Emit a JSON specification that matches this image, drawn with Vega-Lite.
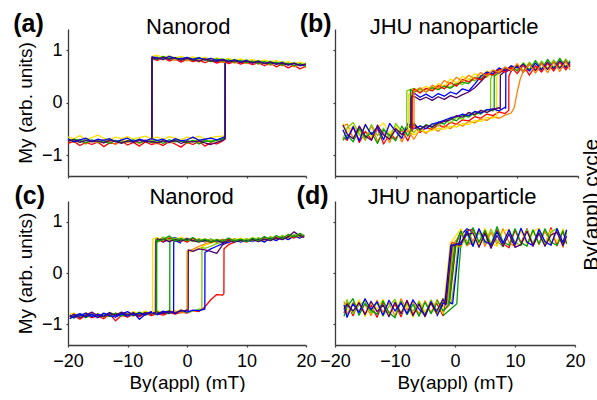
{
"$schema":"https://vega.github.io/schema/vega-lite/v6.json",
"padding":{"left":13,"top":11,"right":0,"bottom":0},
"background":"white",
"config":{"view":{"stroke":null},
"axis":{"grid":false,"domainColor":"#3a3a3a","domainWidth":1.3,"tickColor":"#3a3a3a","tickSize":2,"tickWidth":1.2,"labelFont":"Liberation Sans","labelFontSize":18,"labelColor":"black","titleFont":"Liberation Sans","titleFontSize":19,"titleFontWeight":"normal","titleColor":"black","labelFlush":false,"labelOverlap":false,"format":".0f"},
"axisX":{"labelPadding":5,"titlePadding":3},
"axisY":{"labelPadding":4,"titlePadding":6},
"text":{"font":"Liberation Sans","color":"black"}},
"datasets":{"pts":[
{"p":"a","s":0,"x":-20,"r":-0.78,"o":-0.72,"y":-0.66,"l":-0.70,"g":-0.74,"b":-0.69,"v":-0.73},
{"p":"a","s":0,"x":-19,"r":-0.74,"o":-0.76,"y":-0.69,"l":-0.73,"g":-0.70,"b":-0.75,"v":-0.71},
{"p":"a","s":0,"x":-18,"r":-0.82,"o":-0.70,"y":-0.63,"l":-0.76,"g":-0.72,"b":-0.71,"v":-0.76},
{"p":"a","s":0,"x":-17,"r":-0.76,"o":-0.79,"y":-0.70,"l":-0.69,"g":-0.77,"b":-0.68,"v":-0.72},
{"p":"a","s":0,"x":-16,"r":-0.80,"o":-0.73,"y":-0.67,"l":-0.74,"g":-0.71,"b":-0.74,"v":-0.75},
{"p":"a","s":0,"x":-15,"r":-0.75,"o":-0.77,"y":-0.62,"l":-0.71,"g":-0.75,"b":-0.70,"v":-0.73},
{"p":"a","s":0,"x":-14,"r":-0.84,"o":-0.71,"y":-0.68,"l":-0.77,"g":-0.73,"b":-0.72,"v":-0.77},
{"p":"a","s":0,"x":-13,"r":-0.77,"o":-0.74,"y":-0.71,"l":-0.70,"g":-0.78,"b":-0.69,"v":-0.72},
{"p":"a","s":0,"x":-12,"r":-0.79,"o":-0.80,"y":-0.66,"l":-0.73,"g":-0.72,"b":-0.75,"v":-0.74},
{"p":"a","s":0,"x":-11,"r":-0.73,"o":-0.72,"y":-0.69,"l":-0.76,"g":-0.76,"b":-0.71,"v":-0.78},
{"p":"a","s":0,"x":-10,"r":-0.81,"o":-0.76,"y":-0.65,"l":-0.72,"g":-0.74,"b":-0.68,"v":-0.73},
{"p":"a","s":0,"x":-9,"r":-0.76,"o":-0.73,"y":-0.70,"l":-0.75,"g":-0.71,"b":-0.74,"v":-0.76},
{"p":"a","s":0,"x":-8,"r":-0.83,"o":-0.78,"y":-0.67,"l":-0.70,"g":-0.77,"b":-0.70,"v":-0.72},
{"p":"a","s":0,"x":-7,"r":-0.75,"o":-0.71,"y":-0.64,"l":-0.74,"g":-0.73,"b":-0.73,"v":-0.75},
{"p":"a","s":0,"x":-6,"r":-0.80,"o":-0.75,"y":-0.69,"l":-0.71,"g":-0.76,"b":-0.69,"v":-0.74},
{"p":"a","s":0,"x":-5,"r":-0.77,"o":-0.79,"y":-0.66,"l":-0.75,"g":-0.72,"b":-0.72,"v":-0.77},
{"p":"a","s":0,"x":-4,"r":-0.82,"o":-0.72,"y":-0.70,"l":-0.73,"g":-0.78,"b":-0.70,"v":-0.73},
{"p":"a","s":0,"x":-3,"r":-0.74,"o":-0.77,"y":-0.65,"l":-0.76,"g":-0.71,"b":-0.75,"v":-0.76},
{"p":"a","s":0,"x":-2,"r":-0.79,"o":-0.74,"y":-0.68,"l":-0.71,"g":-0.75,"b":-0.69,"v":-0.72},
{"p":"a","s":0,"x":-1,"r":-0.85,"o":-0.70,"y":-0.71,"l":-0.74,"g":-0.73,"b":-0.73,"v":-0.78},
{"p":"a","s":0,"x":0,"r":-0.76,"o":-0.78,"y":-0.66,"l":-0.72,"g":-0.77,"b":-0.71,"v":-0.74},
{"p":"a","s":0,"x":1,"r":-0.80,"o":-0.73,"y":-0.69,"l":-0.75,"g":-0.72,"b":-0.66,"v":-0.75},
{"p":"a","s":0,"x":2,"r":-0.74,"o":-0.76,"y":-0.64,"l":-0.70,"g":-0.79,"b":-0.72,"v":-0.73},
{"p":"a","s":0,"x":3,"r":-0.83,"o":-0.71,"y":-0.70,"l":-0.74,"g":-0.73,"b":-0.70,"v":-0.77},
{"p":"a","s":0,"x":4,"r":-0.77,"o":-0.75,"y":-0.67,"l":-0.72,"g":-0.75,"b":-0.68,"v":-0.80},
{"p":"a","s":0,"x":5,"r":-0.79,"o":-0.72,"y":-0.65,"l":-0.73,"g":-0.71,"b":-0.71,"v":-0.76},
{"p":"a","s":0,"x":6,"r":-0.73,"o":-0.70,"y":-0.64,"l":-0.69,"g":-0.70,"b":-0.67,"v":-0.72},
{"p":"a","s":0,"x":6.4,"r":-0.70,"o":-0.68,"y":-0.62,"l":-0.66,"g":-0.68,"b":-0.65,"v":-0.69},
{"p":"a","s":0,"x":6.42,"r":0.74,"o":0.76,"y":0.78,"l":0.75,"g":0.77,"b":0.76,"v":0.74},
{"p":"a","s":1,"x":-5.9,"r":-0.70,"o":-0.68,"y":-0.63,"l":-0.67,"g":-0.69,"b":-0.66,"v":-0.70},
{"p":"a","s":1,"x":-5.88,"r":0.83,"o":0.86,"y":0.88,"l":0.85,"g":0.84,"b":0.87,"v":0.85},
{"p":"a","s":1,"x":-5,"r":0.80,"o":0.84,"y":0.90,"l":0.87,"g":0.82,"b":0.85,"v":0.83},
{"p":"a","s":1,"x":-4,"r":0.85,"o":0.81,"y":0.86,"l":0.83,"g":0.88,"b":0.82,"v":0.86},
{"p":"a","s":1,"x":-3,"r":0.79,"o":0.86,"y":0.89,"l":0.86,"g":0.83,"b":0.88,"v":0.82},
{"p":"a","s":1,"x":-2,"r":0.83,"o":0.80,"y":0.85,"l":0.82,"g":0.86,"b":0.84,"v":0.85},
{"p":"a","s":1,"x":-1,"r":0.77,"o":0.85,"y":0.88,"l":0.85,"g":0.81,"b":0.83,"v":0.80},
{"p":"a","s":1,"x":0,"r":0.82,"o":0.79,"y":0.84,"l":0.81,"g":0.85,"b":0.86,"v":0.84},
{"p":"a","s":1,"x":1,"r":0.78,"o":0.84,"y":0.87,"l":0.83,"g":0.80,"b":0.82,"v":0.81},
{"p":"a","s":1,"x":2,"r":0.81,"o":0.77,"y":0.83,"l":0.86,"g":0.84,"b":0.85,"v":0.79},
{"p":"a","s":1,"x":3,"r":0.76,"o":0.83,"y":0.86,"l":0.80,"g":0.82,"b":0.81,"v":0.83},
{"p":"a","s":1,"x":4,"r":0.80,"o":0.78,"y":0.82,"l":0.84,"g":0.78,"b":0.84,"v":0.80},
{"p":"a","s":1,"x":5,"r":0.75,"o":0.82,"y":0.85,"l":0.81,"g":0.83,"b":0.80,"v":0.78},
{"p":"a","s":1,"x":6,"r":0.79,"o":0.76,"y":0.81,"l":0.83,"g":0.79,"b":0.82,"v":0.81},
{"p":"a","s":1,"x":7,"r":0.74,"o":0.81,"y":0.84,"l":0.79,"g":0.81,"b":0.78,"v":0.77},
{"p":"a","s":1,"x":8,"r":0.78,"o":0.75,"y":0.80,"l":0.82,"g":0.77,"b":0.81,"v":0.80},
{"p":"a","s":1,"x":9,"r":0.73,"o":0.80,"y":0.83,"l":0.78,"g":0.80,"b":0.77,"v":0.76},
{"p":"a","s":1,"x":10,"r":0.77,"o":0.74,"y":0.79,"l":0.81,"g":0.76,"b":0.80,"v":0.79},
{"p":"a","s":1,"x":11,"r":0.72,"o":0.79,"y":0.82,"l":0.77,"g":0.79,"b":0.75,"v":0.76},
{"p":"a","s":1,"x":12,"r":0.76,"o":0.73,"y":0.78,"l":0.80,"g":0.74,"b":0.79,"v":0.78},
{"p":"a","s":1,"x":13,"r":0.70,"o":0.78,"y":0.81,"l":0.76,"g":0.78,"b":0.74,"v":0.74},
{"p":"a","s":1,"x":14,"r":0.75,"o":0.71,"y":0.77,"l":0.79,"g":0.73,"b":0.77,"v":0.77},
{"p":"a","s":1,"x":15,"r":0.68,"o":0.76,"y":0.80,"l":0.74,"g":0.77,"b":0.73,"v":0.73},
{"p":"a","s":1,"x":16,"r":0.73,"o":0.70,"y":0.75,"l":0.78,"g":0.71,"b":0.76,"v":0.75},
{"p":"a","s":1,"x":17,"r":0.66,"o":0.74,"y":0.78,"l":0.73,"g":0.75,"b":0.71,"v":0.72},
{"p":"a","s":1,"x":18,"r":0.71,"o":0.68,"y":0.74,"l":0.76,"g":0.70,"b":0.75,"v":0.74},
{"p":"a","s":1,"x":19,"r":0.64,"o":0.73,"y":0.77,"l":0.71,"g":0.74,"b":0.70,"v":0.71},
{"p":"a","s":1,"x":20,"r":0.69,"o":0.67,"y":0.73,"l":0.75,"g":0.69,"b":0.73,"v":0.72},
{"p":"b","s":0,"x":-18.7,"r":-0.66,"o":-0.45,"y":-0.40,"l":-0.70,"g":-0.72,"b":-0.52,"v":-0.43},
{"p":"b","s":0,"x":-18,"r":-0.72,"o":-0.41,"y":-0.58,"l":-0.48,"g":-0.62,"b":-0.70,"v":-0.60},
{"p":"b","s":0,"x":-17,"r":-0.47,"o":-0.68,"y":-0.44,"l":-0.38,"g":-0.75,"b":-0.46,"v":-0.69},
{"p":"b","s":0,"x":-16,"r":-0.76,"o":-0.52,"y":-0.63,"l":-0.60,"g":-0.49,"b":-0.73,"v":-0.45},
{"p":"b","s":0,"x":-15,"r":-0.55,"o":-0.72,"y":-0.41,"l":-0.70,"g":-0.67,"b":-0.42,"v":-0.64},
{"p":"b","s":0,"x":-14,"r":-0.71,"o":-0.44,"y":-0.66,"l":-0.42,"g":-0.57,"b":-0.61,"v":-0.72},
{"p":"b","s":0,"x":-13,"r":-0.50,"o":-0.74,"y":-0.48,"l":-0.63,"g":-0.78,"b":-0.47,"v":-0.43},
{"p":"b","s":0,"x":-12,"r":-0.79,"o":-0.57,"y":-0.39,"l":-0.49,"g":-0.52,"b":-0.71,"v":-0.62},
{"p":"b","s":0,"x":-11,"r":-0.60,"o":-0.76,"y":-0.60,"l":-0.68,"g":-0.63,"b":-0.40,"v":-0.70},
{"p":"b","s":0,"x":-10,"r":-0.69,"o":-0.48,"y":-0.45,"l":-0.40,"g":-0.73,"b":-0.55,"v":-0.50},
{"p":"b","s":0,"x":-9,"r":-0.52,"o":-0.75,"y":-0.64,"l":-0.55,"g":-0.45,"b":-0.68,"v":-0.61},
{"p":"b","s":0,"x":-8,"r":-0.73,"o":-0.53,"y":-0.49,"l":-0.43,"g":-0.64,"b":-0.40,"v":-0.48},
{"p":"b","s":0,"x":-7,"r":-0.45,"o":-0.70,"y":-0.62,"l":-0.57,"g":-0.39,"b":-0.50,"v":-0.42},
{"p":"b","s":0,"x":-6,"r":-0.57,"o":-0.51,"y":-0.52,"l":-0.44,"g":-0.53,"b":-0.45,"v":-0.51},
{"p":"b","s":0,"x":-5,"r":-0.48,"o":-0.59,"y":-0.56,"l":-0.49,"g":-0.42,"b":-0.50,"v":-0.44},
{"p":"b","s":0,"x":-4,"r":-0.51,"o":-0.47,"y":-0.53,"l":-0.40,"g":-0.48,"b":-0.41,"v":-0.46},
{"p":"b","s":0,"x":-3,"r":-0.43,"o":-0.55,"y":-0.49,"l":-0.45,"g":-0.37,"b":-0.38,"v":-0.40},
{"p":"b","s":0,"x":-2,"r":-0.47,"o":-0.44,"y":-0.51,"l":-0.33,"g":-0.41,"b":-0.34,"v":-0.36},
{"p":"b","s":0,"x":-1,"r":-0.38,"o":-0.50,"y":-0.45,"l":-0.39,"g":-0.30,"b":-0.29,"v":-0.33},
{"p":"b","s":0,"x":0,"r":-0.41,"o":-0.40,"y":-0.47,"l":-0.28,"g":-0.35,"b":-0.27,"v":-0.25},
{"p":"b","s":0,"x":1,"r":-0.33,"o":-0.45,"y":-0.40,"l":-0.32,"g":-0.24,"b":-0.22,"v":-0.28},
{"p":"b","s":0,"x":2,"r":-0.35,"o":-0.36,"y":-0.42,"l":-0.20,"g":-0.28,"b":-0.25,"v":-0.19},
{"p":"b","s":0,"x":3,"r":-0.27,"o":-0.39,"y":-0.34,"l":-0.25,"g":-0.18,"b":-0.17,"v":-0.23},
{"p":"b","s":0,"x":4,"r":-0.30,"o":-0.31,"y":-0.36,"l":-0.16,"g":-0.22,"b":-0.20,"v":-0.15},
{"p":"b","s":0,"x":5,"r":-0.22,"o":-0.34,"y":-0.28,"l":-0.19,"g":-0.13,"b":-0.14,"v":-0.19},
{"p":"b","s":0,"x":5.6,"l":-0.15},
{"p":"b","s":0,"x":5.62,"l":0.45},
{"p":"b","s":0,"x":6,"r":-0.25,"o":-0.27,"y":-0.30,"l":0.55,"g":-0.16,"b":-0.12,"v":-0.13},
{"p":"b","s":0,"x":6.2,"g":-0.12},
{"p":"b","s":0,"x":6.22,"g":0.50},
{"p":"b","s":0,"x":6.6,"y":-0.26},
{"p":"b","s":0,"x":6.62,"y":0.48},
{"p":"b","s":0,"x":7,"r":-0.18,"o":-0.30,"y":0.56,"l":0.62,"g":0.58,"b":-0.16,"v":-0.10},
{"p":"b","s":0,"x":7.2,"v":-0.12},
{"p":"b","s":0,"x":7.22,"v":0.52},
{"p":"b","s":0,"x":8,"r":-0.21,"o":-0.24,"y":0.63,"g":0.64,"b":-0.09,"v":0.60},
{"p":"b","s":0,"x":8.1,"b":-0.11},
{"p":"b","s":0,"x":8.12,"b":0.58},
{"p":"b","s":0,"x":8.6,"r":-0.15},
{"p":"b","s":0,"x":8.62,"r":0.50},
{"p":"b","s":0,"x":9,"r":0.60,"o":-0.20,"b":0.64},
{"p":"b","s":0,"x":9.5,"o":-0.10},
{"p":"b","s":0,"x":10,"o":0.20},
{"p":"b","s":0,"x":10.5,"o":0.45},
{"p":"b","s":0,"x":11,"o":0.60},
{"p":"b","s":0,"x":12,"o":0.62},
{"p":"b","s":1,"x":-8.2,"l":-0.50},
{"p":"b","s":1,"x":-8.18,"l":0.22},
{"p":"b","s":1,"x":-7.9,"y":-0.52},
{"p":"b","s":1,"x":-7.88,"y":0.15},
{"p":"b","s":1,"x":-7.6,"g":-0.48},
{"p":"b","s":1,"x":-7.58,"g":0.25},
{"p":"b","s":1,"x":-7.5,"v":-0.50},
{"p":"b","s":1,"x":-7.48,"v":0.08},
{"p":"b","s":1,"x":-7.4,"b":-0.45},
{"p":"b","s":1,"x":-7.38,"b":0.12},
{"p":"b","s":1,"x":-7.3,"r":-0.55},
{"p":"b","s":1,"x":-7.28,"r":0.20},
{"p":"b","s":1,"x":-7,"r":0.26,"o":-0.50,"y":0.20,"l":0.27,"g":0.19,"b":0.18,"v":0.12},
{"p":"b","s":1,"x":-6.98,"o":0.22},
{"p":"b","s":1,"x":-6,"r":0.18,"o":0.28,"y":0.25,"l":0.21,"g":0.27,"b":0.10,"v":0.05},
{"p":"b","s":1,"x":-5,"r":0.27,"o":0.20,"y":0.31,"l":0.26,"g":0.20,"b":0.16,"v":0.10},
{"p":"b","s":1,"x":-4,"r":0.22,"o":0.33,"y":0.24,"l":0.30,"g":0.28,"b":0.09,"v":0.04},
{"p":"b","s":1,"x":-3,"r":0.32,"o":0.27,"y":0.36,"l":0.24,"g":0.25,"b":0.17,"v":0.11},
{"p":"b","s":1,"x":-2,"r":0.26,"o":0.42,"y":0.30,"l":0.33,"g":0.31,"b":0.12,"v":0.06},
{"p":"b","s":1,"x":-1,"r":0.38,"o":0.35,"y":0.45,"l":0.29,"g":0.27,"b":0.20,"v":0.13},
{"p":"b","s":1,"x":0,"r":0.31,"o":0.48,"y":0.37,"l":0.38,"g":0.35,"b":0.16,"v":0.09},
{"p":"b","s":1,"x":1,"r":0.44,"o":0.40,"y":0.50,"l":0.34,"g":0.39,"b":0.26,"v":0.15},
{"p":"b","s":1,"x":2,"r":0.39,"o":0.52,"y":0.43,"l":0.45,"g":0.36,"b":0.22,"v":0.20},
{"p":"b","s":1,"x":3,"r":0.47,"o":0.45,"y":0.55,"l":0.41,"g":0.48,"b":0.35,"v":0.28},
{"p":"b","s":1,"x":4,"r":0.43,"o":0.57,"y":0.49,"l":0.52,"g":0.45,"b":0.50,"v":0.40},
{"p":"b","s":1,"x":5,"r":0.55,"o":0.51,"y":0.60,"l":0.48,"g":0.56,"b":0.58,"v":0.52},
{"p":"b","s":1,"x":6,"r":0.52,"o":0.62,"y":0.54,"l":0.60,"g":0.53,"b":0.55,"v":0.60},
{"p":"b","s":1,"x":7,"r":0.63,"o":0.57,"y":0.65,"l":0.56,"g":0.64,"b":0.66,"v":0.56},
{"p":"b","s":1,"x":8,"r":0.58,"o":0.68,"y":0.60,"l":0.66,"g":0.59,"b":0.60,"v":0.64},
{"p":"b","s":1,"x":9,"r":0.67,"o":0.61,"y":0.70,"l":0.62,"g":0.69,"b":0.70,"v":0.60},
{"p":"b","s":1,"x":10,"r":0.55,"o":0.74,"y":0.62,"l":0.72,"g":0.60,"b":0.66,"v":0.70},
{"p":"b","s":1,"x":11,"r":0.71,"o":0.58,"y":0.76,"l":0.61,"g":0.75,"b":0.72,"v":0.58},
{"p":"b","s":1,"x":12,"r":0.52,"o":0.73,"y":0.63,"l":0.77,"g":0.62,"b":0.60,"v":0.73},
{"p":"b","s":1,"x":13,"r":0.70,"o":0.56,"y":0.78,"l":0.64,"g":0.80,"b":0.75,"v":0.61},
{"p":"b","s":1,"x":14,"r":0.58,"o":0.74,"y":0.61,"l":0.79,"g":0.63,"b":0.62,"v":0.75},
{"p":"b","s":1,"x":15,"r":0.75,"o":0.57,"y":0.80,"l":0.65,"g":0.82,"b":0.77,"v":0.63},
{"p":"b","s":1,"x":16,"r":0.60,"o":0.77,"y":0.63,"l":0.81,"g":0.66,"b":0.64,"v":0.77},
{"p":"b","s":1,"x":17,"r":0.77,"o":0.59,"y":0.82,"l":0.67,"g":0.84,"b":0.79,"v":0.65},
{"p":"b","s":1,"x":18,"r":0.62,"o":0.78,"y":0.66,"l":0.83,"g":0.68,"b":0.66,"v":0.79},
{"p":"b","s":1,"x":18.7,"r":0.74,"o":0.62,"y":0.78,"l":0.70,"g":0.80,"b":0.77,"v":0.68},
{"p":"c","s":0,"x":-19.7,"r":-0.88,"o":-0.84,"y":-0.80,"l":-0.86,"g":-0.83,"b":-0.89,"v":-0.85,"b2":-0.82},
{"p":"c","s":0,"x":-19,"r":-0.83,"o":-0.87,"y":-0.78,"l":-0.81,"g":-0.88,"b":-0.84,"v":-0.80,"b2":-0.86},
{"p":"c","s":0,"x":-18,"r":-0.90,"o":-0.81,"y":-0.84,"l":-0.85,"g":-0.80,"b":-0.79,"v":-0.87,"b2":-0.83},
{"p":"c","s":0,"x":-17,"r":-0.82,"o":-0.86,"y":-0.77,"l":-0.79,"g":-0.87,"b":-0.85,"v":-0.82,"b2":-0.78},
{"p":"c","s":0,"x":-16,"r":-0.87,"o":-0.79,"y":-0.83,"l":-0.84,"g":-0.81,"b":-0.80,"v":-0.76,"b2":-0.85},
{"p":"c","s":0,"x":-15,"r":-0.84,"o":-0.85,"y":-0.79,"l":-0.80,"g":-0.86,"b":-0.87,"v":-0.83,"b2":-0.80},
{"p":"c","s":0,"x":-14,"r":-0.89,"o":-0.80,"y":-0.82,"l":-0.86,"g":-0.79,"b":-0.78,"v":-0.85,"b2":-0.84},
{"p":"c","s":0,"x":-13,"r":-0.80,"o":-0.84,"y":-0.76,"l":-0.79,"g":-0.85,"b":-0.83,"v":-0.79,"b2":-0.77},
{"p":"c","s":0,"x":-12,"r":-0.93,"o":-0.78,"y":-0.81,"l":-0.83,"g":-0.78,"b":-0.86,"v":-0.82,"b2":-0.83},
{"p":"c","s":0,"x":-11,"r":-0.82,"o":-0.83,"y":-0.77,"l":-0.78,"g":-0.84,"b":-0.79,"v":-0.76,"b2":-0.80},
{"p":"c","s":0,"x":-10,"r":-0.86,"o":-0.79,"y":-0.80,"l":-0.82,"g":-0.80,"b":-0.84,"v":-0.81,"b2":-0.75},
{"p":"c","s":0,"x":-9,"r":-0.80,"o":-0.84,"y":-0.75,"l":-0.77,"g":-0.83,"b":-0.77,"v":-0.78,"b2":-0.82},
{"p":"c","s":0,"x":-8,"r":-0.85,"o":-0.77,"y":-0.79,"l":-0.81,"g":-0.76,"b":-0.90,"v":-0.83,"b2":-0.78},
{"p":"c","s":0,"x":-7,"r":-0.78,"o":-0.82,"y":-0.74,"l":-0.76,"g":-0.82,"b":-0.80,"v":-0.77,"b2":-0.81},
{"p":"c","s":0,"x":-6,"r":-0.83,"o":-0.76,"y":-0.78,"l":-0.80,"g":-0.77,"b":-0.75,"v":-0.80,"b2":-0.76},
{"p":"c","s":0,"x":-5,"r":-0.79,"o":-0.80,"y":-0.73,"l":-0.75,"g":-0.81,"b":-0.81,"v":-0.76,"b2":-0.80},
{"p":"c","s":0,"x":-4,"r":-0.82,"o":-0.75,"y":-0.77,"l":-0.79,"g":-0.76,"b":-0.77,"v":-0.79,"b2":-0.74},
{"p":"c","s":0,"x":-3,"r":-0.77,"o":-0.79,"y":-0.72,"l":-0.74,"g":-0.79,"b":-0.74,"v":-0.75,"b2":-0.78},
{"p":"c","s":0,"x":-2.9,"g":-0.76},
{"p":"c","s":0,"x":-2.88,"g":0.62},
{"p":"c","s":0,"x":-2.25,"b2":-0.75},
{"p":"c","s":0,"x":-2.23,"b2":0.60},
{"p":"c","s":0,"x":-2,"r":-0.80,"o":-0.74,"y":-0.76,"l":-0.78,"g":0.66,"b":-0.79,"v":-0.77,"b2":0.63},
{"p":"c","s":0,"x":-1,"r":-0.76,"o":-0.78,"y":-0.71,"l":-0.73,"g":0.60,"b":-0.72,"v":-0.74,"b2":0.58},
{"p":"c","s":0,"x":0,"r":-0.78,"o":-0.73,"y":-0.75,"l":-0.77,"b":-0.76,"v":-0.72},
{"p":"c","s":0,"x":0.02,"o":0.42},
{"p":"c","s":0,"x":0.1,"y":-0.74},
{"p":"c","s":0,"x":0.12,"y":0.40},
{"p":"c","s":0,"x":0.2,"v":-0.73},
{"p":"c","s":0,"x":0.22,"v":0.45},
{"p":"c","s":0,"x":1,"r":-0.73,"o":0.46,"y":0.43,"l":-0.74,"b":-0.72,"v":0.42},
{"p":"c","s":0,"x":2,"r":-0.75,"o":0.52,"y":0.48,"l":-0.70,"b":-0.73,"v":0.47},
{"p":"c","s":0,"x":2.5,"l":-0.71},
{"p":"c","s":0,"x":2.52,"l":0.50},
{"p":"c","s":0,"x":3,"r":-0.66,"o":0.56,"y":0.54,"l":0.48,"b":-0.70,"v":0.45},
{"p":"c","s":0,"x":3.02,"b":0.40},
{"p":"c","s":0,"x":4,"r":-0.52,"o":0.60,"y":0.58,"l":0.52,"b":0.47,"v":0.42},
{"p":"c","s":0,"x":5,"r":-0.42,"o":0.62,"y":0.61,"l":0.57,"b":0.52,"v":0.38},
{"p":"c","s":0,"x":6,"r":-0.43,"l":0.60,"b":0.57,"v":0.55},
{"p":"c","s":0,"x":6.2,"r":-0.40},
{"p":"c","s":0,"x":6.22,"r":0.47},
{"p":"c","s":0,"x":7,"r":0.55,"b":0.60,"v":0.60},
{"p":"c","s":0,"x":8,"r":0.60},
{"p":"c","s":1,"x":-5.8,"y":-0.77},
{"p":"c","s":1,"x":-5.78,"y":0.66},
{"p":"c","s":1,"x":-5.3,"o":-0.78,"b":-0.80},
{"p":"c","s":1,"x":-5.28,"o":0.62,"b":0.64},
{"p":"c","s":1,"x":-5.2,"r":-0.80,"l":-0.76,"v":-0.78},
{"p":"c","s":1,"x":-5.18,"r":0.63,"l":0.67,"v":0.60},
{"p":"c","s":1,"x":-5.1,"g":-0.79},
{"p":"c","s":1,"x":-5.08,"g":0.65},
{"p":"c","s":1,"x":-5,"r":0.66,"o":0.60,"y":0.69,"l":0.62,"g":0.61,"b":0.67,"v":0.64},
{"p":"c","s":1,"x":-4,"r":0.61,"o":0.67,"y":0.63,"l":0.70,"g":0.65,"b":0.60,"v":0.66},
{"p":"c","s":1,"x":-3,"r":0.68,"o":0.62,"y":0.71,"l":0.64,"g":0.72,"b":0.66,"v":0.61},
{"p":"c","s":1,"x":-2,"r":0.63,"o":0.66,"y":0.65,"l":0.68,"g":0.62,"b":0.69,"v":0.65},
{"p":"c","s":1,"x":-1,"r":0.66,"o":0.61,"y":0.70,"l":0.63,"g":0.67,"b":0.63,"v":0.62},
{"p":"c","s":1,"x":0,"r":0.60,"o":0.68,"y":0.64,"l":0.66,"g":0.63,"b":0.67,"v":0.66},
{"p":"c","s":1,"x":1,"r":0.67,"o":0.62,"y":0.68,"l":0.61,"g":0.69,"b":0.62,"v":0.63},
{"p":"c","s":1,"x":2,"r":0.62,"o":0.66,"y":0.63,"l":0.67,"g":0.61,"b":0.65,"v":0.60},
{"p":"c","s":1,"x":3,"r":0.65,"o":0.60,"y":0.67,"l":0.62,"g":0.66,"b":0.61,"v":0.64},
{"p":"c","s":1,"x":4,"r":0.59,"o":0.65,"y":0.62,"l":0.66,"g":0.60,"b":0.66,"v":0.61},
{"p":"c","s":1,"x":5,"r":0.64,"o":0.61,"y":0.66,"l":0.60,"g":0.65,"b":0.60,"v":0.63},
{"p":"c","s":1,"x":6,"r":0.60,"o":0.66,"y":0.61,"l":0.64,"g":0.62,"b":0.64,"v":0.59},
{"p":"c","s":1,"x":7,"r":0.66,"o":0.62,"y":0.67,"l":0.61,"g":0.68,"b":0.59,"v":0.63},
{"p":"c","s":1,"x":8,"r":0.61,"o":0.67,"y":0.63,"l":0.66,"g":0.62,"b":0.65,"v":0.60},
{"p":"c","s":1,"x":9,"r":0.65,"o":0.61,"y":0.68,"l":0.62,"g":0.66,"b":0.60,"v":0.64},
{"p":"c","s":1,"x":10,"r":0.60,"o":0.66,"y":0.63,"l":0.67,"g":0.61,"b":0.64,"v":0.62},
{"p":"c","s":1,"x":11,"r":0.67,"o":0.63,"y":0.69,"l":0.62,"g":0.68,"b":0.61,"v":0.65},
{"p":"c","s":1,"x":12,"r":0.62,"o":0.68,"y":0.64,"l":0.69,"g":0.63,"b":0.66,"v":0.61},
{"p":"c","s":1,"x":13,"r":0.69,"o":0.63,"y":0.70,"l":0.64,"g":0.71,"b":0.60,"v":0.66},
{"p":"c","s":1,"x":14,"r":0.64,"o":0.70,"y":0.66,"l":0.71,"g":0.65,"b":0.68,"v":0.63},
{"p":"c","s":1,"x":15,"r":0.70,"o":0.65,"y":0.72,"l":0.66,"g":0.73,"b":0.63,"v":0.68},
{"p":"c","s":1,"x":16,"r":0.66,"o":0.71,"y":0.67,"l":0.73,"g":0.67,"b":0.70,"v":0.65},
{"p":"c","s":1,"x":17,"r":0.72,"o":0.66,"y":0.74,"l":0.68,"g":0.75,"b":0.65,"v":0.70},
{"p":"c","s":1,"x":18,"r":0.68,"o":0.73,"y":0.69,"l":0.75,"g":0.70,"b":0.72,"v":0.80},
{"p":"c","s":1,"x":19,"r":0.74,"o":0.68,"y":0.76,"l":0.70,"g":0.77,"b":0.68,"v":0.72},
{"p":"c","s":1,"x":19.7,"r":0.70,"o":0.72,"y":0.71,"l":0.74,"g":0.72,"b":0.73,"v":0.69},
{"p":"d","s":0,"x":-18.5,"r":-0.78,"o":-0.55,"y":-0.60,"l":-0.72,"g":-0.84,"b":-0.62,"v":-0.70},
{"p":"d","s":0,"x":-18,"r":-0.58,"o":-0.80,"y":-0.71,"l":-0.52,"g":-0.66,"b":-0.86,"v":-0.61},
{"p":"d","s":0,"x":-17,"r":-0.83,"o":-0.57,"y":-0.76,"l":-0.79,"g":-0.50,"b":-0.60,"v":-0.74},
{"p":"d","s":0,"x":-16,"r":-0.55,"o":-0.74,"y":-0.52,"l":-0.63,"g":-0.82,"b":-0.77,"v":-0.58},
{"p":"d","s":0,"x":-15,"r":-0.80,"o":-0.61,"y":-0.85,"l":-0.54,"g":-0.59,"b":-0.50,"v":-0.81},
{"p":"d","s":0,"x":-14,"r":-0.62,"o":-0.83,"y":-0.58,"l":-0.78,"g":-0.73,"b":-0.71,"v":-0.55},
{"p":"d","s":0,"x":-13,"r":-0.86,"o":-0.53,"y":-0.70,"l":-0.57,"g":-0.80,"b":-0.56,"v":-0.75},
{"p":"d","s":0,"x":-12,"r":-0.57,"o":-0.76,"y":-0.51,"l":-0.84,"g":-0.54,"b":-0.82,"v":-0.62},
{"p":"d","s":0,"x":-11,"r":-0.79,"o":-0.58,"y":-0.81,"l":-0.65,"g":-0.77,"b":-0.53,"v":-0.85},
{"p":"d","s":0,"x":-10,"r":-0.60,"o":-0.84,"y":-0.56,"l":-0.51,"g":-0.87,"b":-0.74,"v":-0.57},
{"p":"d","s":0,"x":-9,"r":-0.85,"o":-0.50,"y":-0.77,"l":-0.80,"g":-0.55,"b":-0.58,"v":-0.79},
{"p":"d","s":0,"x":-8,"r":-0.53,"o":-0.72,"y":-0.63,"l":-0.59,"g":-0.81,"b":-0.79,"v":-0.54},
{"p":"d","s":0,"x":-7,"r":-0.81,"o":-0.56,"y":-0.86,"l":-0.74,"g":-0.61,"b":-0.52,"v":-0.83},
{"p":"d","s":0,"x":-6,"r":-0.59,"o":-0.80,"y":-0.54,"l":-0.55,"g":-0.84,"b":-0.70,"v":-0.60},
{"p":"d","s":0,"x":-5,"r":-0.83,"o":-0.54,"y":-0.75,"l":-0.81,"g":-0.57,"b":-0.82,"v":-0.85},
{"p":"d","s":0,"x":-4,"r":-0.55,"o":-0.77,"y":-0.60,"l":-0.52,"g":-0.79,"b":-0.56,"v":-0.58},
{"p":"d","s":0,"x":-3,"r":-0.78,"o":-0.52,"y":-0.82,"l":-0.73,"g":-0.58,"b":-0.77,"v":-0.80},
{"p":"d","s":0,"x":-2,"r":-0.52,"o":-0.75,"y":-0.50,"l":-0.57,"g":-0.83,"b":-0.51,"v":-0.62},
{"p":"d","s":0,"x":-1.5,"y":-0.58},
{"p":"d","s":0,"x":-1.2,"r":-0.60},
{"p":"d","s":0,"x":-1,"v":-0.57},
{"p":"d","s":0,"x":-0.9,"y":0.05,"o":-0.62},
{"p":"d","s":0,"x":-0.6,"r":-0.02,"l":-0.59},
{"p":"d","s":0,"x":-0.4,"y":0.56,"v":0.00,"b":-0.60},
{"p":"d","s":0,"x":-0.3,"o":0.04},
{"p":"d","s":0,"x":-0.1,"r":0.52},
{"p":"d","s":0,"x":0,"l":-0.05},
{"p":"d","s":0,"x":0.1,"v":0.55},
{"p":"d","s":0,"x":0.2,"o":0.58,"b":0.02},
{"p":"d","s":0,"x":0.3,"g":-0.60},
{"p":"d","s":0,"x":0.5,"l":0.53},
{"p":"d","s":0,"x":0.6,"g":0.00},
{"p":"d","s":0,"x":0.7,"b":0.56},
{"p":"d","s":0,"x":1,"r":0.55,"o":0.80,"y":0.52,"l":0.78,"g":0.58,"b":0.74,"v":0.83},
{"p":"d","s":0,"x":2,"r":0.84,"o":0.56,"y":0.81,"l":0.53,"g":0.77,"b":0.86,"v":0.60},
{"p":"d","s":0,"x":3,"r":0.60,"o":0.83,"y":0.58,"l":0.85,"g":0.52,"b":0.79,"v":0.55},
{"p":"d","s":1,"x":-3,"r":-0.60,"o":-0.81,"y":-0.55,"l":-0.78,"g":-0.52,"b":-0.84,"v":-0.73},
{"p":"d","s":1,"x":-2,"r":-0.82,"o":-0.54,"y":-0.79,"l":-0.50,"g":-0.74,"b":-0.58,"v":-0.51},
{"p":"d","s":1,"x":-1.8,"y":-0.55},
{"p":"d","s":1,"x":-1.7,"b":-0.60},
{"p":"d","s":1,"x":-1.6,"r":-0.57},
{"p":"d","s":1,"x":-1.5,"v":-0.62},
{"p":"d","s":1,"x":-1.3,"y":0.02,"o":-0.58},
{"p":"d","s":1,"x":-1.2,"b":-0.04,"l":-0.60},
{"p":"d","s":1,"x":-1.1,"r":0.06},
{"p":"d","s":1,"x":-1,"v":-0.02,"g":-0.61},
{"p":"d","s":1,"x":-0.8,"y":0.57,"o":0.00},
{"p":"d","s":1,"x":-0.7,"b":0.54,"l":0.03},
{"p":"d","s":1,"x":-0.6,"r":0.60},
{"p":"d","s":1,"x":-0.5,"v":0.52,"g":-0.03},
{"p":"d","s":1,"x":-0.3,"o":0.56},
{"p":"d","s":1,"x":-0.2,"l":0.55},
{"p":"d","s":1,"x":0.05,"g":0.55},
{"p":"d","s":1,"x":1,"r":0.52,"o":0.77,"y":0.86,"l":0.50,"g":0.81,"b":0.56,"v":0.60},
{"p":"d","s":1,"x":2,"r":0.81,"o":0.53,"y":0.58,"l":0.84,"g":0.55,"b":0.82,"v":0.75},
{"p":"d","s":1,"x":3,"r":0.86,"o":0.62,"y":0.80,"l":0.56,"g":0.88,"b":0.52,"v":0.78},
{"p":"d","s":1,"x":4,"r":0.54,"o":0.85,"y":0.55,"l":0.79,"g":0.60,"b":0.86,"v":0.50},
{"p":"d","s":1,"x":5,"r":0.80,"o":0.52,"y":0.87,"l":0.58,"g":0.83,"b":0.61,"v":0.77},
{"p":"d","s":1,"x":6,"r":0.51,"o":0.79,"y":0.60,"l":0.85,"g":0.54,"b":0.55,"v":0.48},
{"p":"d","s":1,"x":7,"r":0.84,"o":0.56,"y":0.52,"l":0.62,"g":0.90,"b":0.80,"v":0.73},
{"p":"d","s":1,"x":8,"r":0.57,"o":0.86,"y":0.81,"l":0.51,"g":0.61,"b":0.58,"v":0.52},
{"p":"d","s":1,"x":9,"r":0.49,"o":0.60,"y":0.85,"l":0.80,"g":0.54,"b":0.84,"v":0.76},
{"p":"d","s":1,"x":10,"r":0.83,"o":0.51,"y":0.57,"l":0.61,"g":0.86,"b":0.55,"v":0.50},
{"p":"d","s":1,"x":11,"r":0.58,"o":0.84,"y":0.83,"l":0.53,"g":0.59,"b":0.87,"v":0.55},
{"p":"d","s":1,"x":12,"r":0.86,"o":0.57,"y":0.55,"l":0.85,"g":0.52,"b":0.60,"v":0.81},
{"p":"d","s":1,"x":13,"r":0.52,"o":0.83,"y":0.80,"l":0.58,"g":0.84,"b":0.53,"v":0.54},
{"p":"d","s":1,"x":14,"r":0.79,"o":0.55,"y":0.87,"l":0.82,"g":0.57,"b":0.85,"v":0.77},
{"p":"d","s":1,"x":15,"r":0.55,"o":0.81,"y":0.58,"l":0.54,"g":0.86,"b":0.61,"v":0.52},
{"p":"d","s":1,"x":16,"r":0.88,"o":0.56,"y":0.84,"l":0.79,"g":0.60,"b":0.54,"v":0.74},
{"p":"d","s":1,"x":17,"r":0.53,"o":0.83,"y":0.60,"l":0.87,"g":0.54,"b":0.86,"v":0.79},
{"p":"d","s":1,"x":18,"r":0.81,"o":0.50,"y":0.86,"l":0.57,"g":0.82,"b":0.59,"v":0.53},
{"p":"d","s":1,"x":18.6,"r":0.58,"o":0.79,"y":0.62,"l":0.83,"g":0.56,"b":0.84,"v":0.72}
],
"labels":[
{"p":"a","t":"(a)","x":-29.2,"y":1.343},
{"p":"b","t":"(b)","x":-25.8,"y":1.343},
{"p":"c","t":"(c)","x":-29.0,"y":1.342},
{"p":"d","t":"(d)","x":-26.4,"y":1.342}
],
"titles":[
{"p":"a","t":"Nanorod","x":0.2,"y":1.305},
{"p":"b","t":"JHU nanoparticle","x":-0.4,"y":1.305},
{"p":"c","t":"Nanorod","x":0.77,"y":1.342},
{"p":"d","t":"JHU nanoparticle","x":-0.5,"y":1.342}
],
"side":[
{"t":"By(appl) cycle","x":23.3,"y":-1.95}
]},
"bounds":"flush",
"columns":2,
"spacing":{"row":25,"column":29},
"concat":[
{"width":238,"height":147,"layer":[
{"data":{"name":"pts"},"transform":[{"filter":"datum.p==='a'"},{"fold":["r","o","y","l","g","b","b2","v"],"as":["k","m"]},{"filter":"isValid(datum.m)"}],
"mark":{"type":"line","strokeWidth":1.3,"strokeJoin":"round"},
"encoding":{"x":{"field":"x","type":"quantitative","scale":{"domain":[-20,20],"nice":false},"axis":{"values":[-20,-10,0,10,20],"labels":false,"title":null}},
"y":{"field":"m","type":"quantitative","scale":{"domain":[-1.4,1.4],"nice":false},"axis":{"values":[-1,0,1],"title":"My (arb. units)"}},
"color":{"field":"k","type":"nominal","scale":{"domain":["r","o","y","l","g","b","b2","v"],"range":["#ff0000","#ff8000","#ffe000","#7ccc00","#00a000","#0000ff","#0000ff","#500070"]},"legend":null},
"detail":{"field":"s","type":"nominal"}}},
{"data":{"name":"labels"},"transform":[{"filter":"datum.p==='a'"}],"mark":{"type":"text","fontSize":25,"fontWeight":"bold","align":"left","baseline":"alphabetic"},"encoding":{"x":{"field":"x","type":"quantitative"},"y":{"field":"y","type":"quantitative"},"text":{"field":"t"}}},
{"data":{"name":"titles"},"transform":[{"filter":"datum.p==='a'"}],"mark":{"type":"text","fontSize":22,"align":"center","baseline":"alphabetic"},"encoding":{"x":{"field":"x","type":"quantitative"},"y":{"field":"y","type":"quantitative"},"text":{"field":"t"}}}
]},
{"width":243,"height":147,"layer":[
{"data":{"name":"pts"},"transform":[{"filter":"datum.p==='b'"},{"fold":["r","o","y","l","g","b","b2","v"],"as":["k","m"]},{"filter":"isValid(datum.m)"}],
"mark":{"type":"line","strokeWidth":1.3,"strokeJoin":"round"},
"encoding":{"x":{"field":"x","type":"quantitative","scale":{"domain":[-20,20],"nice":false},"axis":{"values":[-20,-10,0,10,20],"labels":false,"title":null}},
"y":{"field":"m","type":"quantitative","scale":{"domain":[-1.4,1.4],"nice":false},"axis":{"values":[-1,0,1],"labels":false,"title":null}},
"color":{"field":"k","type":"nominal","scale":{"domain":["r","o","y","l","g","b","b2","v"],"range":["#ff0000","#ff8000","#ffe000","#7ccc00","#00a000","#0000ff","#0000ff","#500070"]},"legend":null},
"detail":{"field":"s","type":"nominal"}}},
{"data":{"name":"labels"},"transform":[{"filter":"datum.p==='b'"}],"mark":{"type":"text","fontSize":25,"fontWeight":"bold","align":"left","baseline":"alphabetic"},"encoding":{"x":{"field":"x","type":"quantitative"},"y":{"field":"y","type":"quantitative"},"text":{"field":"t"}}},
{"data":{"name":"titles"},"transform":[{"filter":"datum.p==='b'"}],"mark":{"type":"text","fontSize":22,"align":"center","baseline":"alphabetic"},"encoding":{"x":{"field":"x","type":"quantitative"},"y":{"field":"y","type":"quantitative"},"text":{"field":"t"}}},
{"data":{"name":"side"},"mark":{"type":"text","fontSize":21,"align":"center","baseline":"alphabetic","angle":270},"encoding":{"x":{"field":"x","type":"quantitative"},"y":{"field":"y","type":"quantitative"},"text":{"field":"t"}}}
]},
{"width":238,"height":144,"layer":[
{"data":{"name":"pts"},"transform":[{"filter":"datum.p==='c'"},{"fold":["r","o","y","l","g","b","b2","v"],"as":["k","m"]},{"filter":"isValid(datum.m)"}],
"mark":{"type":"line","strokeWidth":1.3,"strokeJoin":"round"},
"encoding":{"x":{"field":"x","type":"quantitative","scale":{"domain":[-20,20],"nice":false},"axis":{"values":[-20,-10,0,10,20],"title":"By(appl) (mT)"}},
"y":{"field":"m","type":"quantitative","scale":{"domain":[-1.4,1.4],"nice":false},"axis":{"values":[-1,0,1],"title":"My (arb. units)"}},
"color":{"field":"k","type":"nominal","scale":{"domain":["r","o","y","l","g","b","b2","v"],"range":["#ff0000","#ff8000","#ffe000","#7ccc00","#00a000","#0000ff","#0000ff","#500070"]},"legend":null},
"detail":{"field":"s","type":"nominal"}}},
{"data":{"name":"labels"},"transform":[{"filter":"datum.p==='c'"}],"mark":{"type":"text","fontSize":25,"fontWeight":"bold","align":"left","baseline":"alphabetic"},"encoding":{"x":{"field":"x","type":"quantitative"},"y":{"field":"y","type":"quantitative"},"text":{"field":"t"}}},
{"data":{"name":"titles"},"transform":[{"filter":"datum.p==='c'"}],"mark":{"type":"text","fontSize":22,"align":"center","baseline":"alphabetic"},"encoding":{"x":{"field":"x","type":"quantitative"},"y":{"field":"y","type":"quantitative"},"text":{"field":"t"}}}
]},
{"width":240,"height":144,"layer":[
{"data":{"name":"pts"},"transform":[{"filter":"datum.p==='d'"},{"fold":["r","o","y","l","g","b","b2","v"],"as":["k","m"]},{"filter":"isValid(datum.m)"}],
"mark":{"type":"line","strokeWidth":1.3,"strokeJoin":"round"},
"encoding":{"x":{"field":"x","type":"quantitative","scale":{"domain":[-20,20],"nice":false},"axis":{"values":[-20,-10,0,10,20],"title":"By(appl) (mT)"}},
"y":{"field":"m","type":"quantitative","scale":{"domain":[-1.4,1.4],"nice":false},"axis":{"values":[-1,0,1],"labels":false,"title":null}},
"color":{"field":"k","type":"nominal","scale":{"domain":["r","o","y","l","g","b","b2","v"],"range":["#ff0000","#ff8000","#ffe000","#7ccc00","#00a000","#0000ff","#0000ff","#500070"]},"legend":null},
"detail":{"field":"s","type":"nominal"}}},
{"data":{"name":"labels"},"transform":[{"filter":"datum.p==='d'"}],"mark":{"type":"text","fontSize":25,"fontWeight":"bold","align":"left","baseline":"alphabetic"},"encoding":{"x":{"field":"x","type":"quantitative"},"y":{"field":"y","type":"quantitative"},"text":{"field":"t"}}},
{"data":{"name":"titles"},"transform":[{"filter":"datum.p==='d'"}],"mark":{"type":"text","fontSize":22,"align":"center","baseline":"alphabetic"},"encoding":{"x":{"field":"x","type":"quantitative"},"y":{"field":"y","type":"quantitative"},"text":{"field":"t"}}}
]}
]
}
